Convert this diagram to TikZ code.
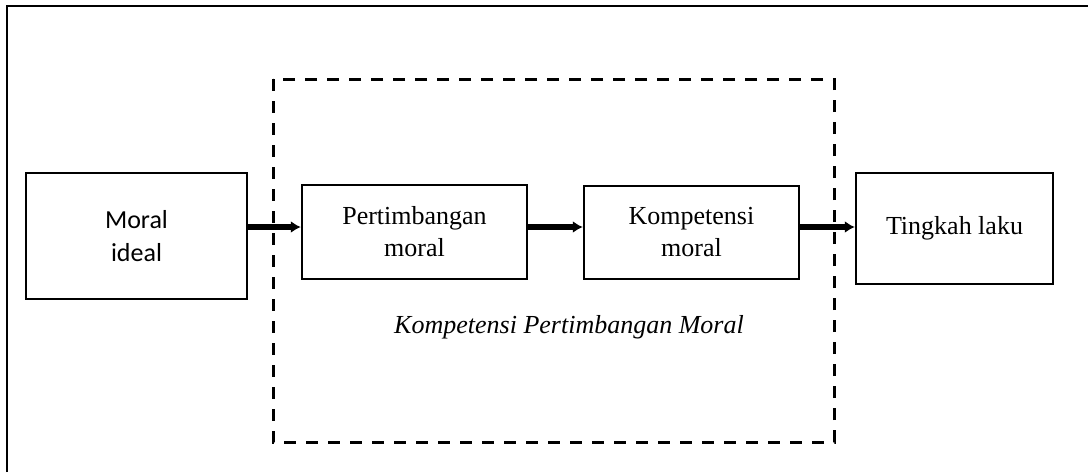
\documentclass[tikz,border=0pt]{standalone}
\usepackage{fontspec}
\setmainfont{Liberation Serif}
\newfontfamily\calibfont{Carlito}
\usepackage{tikz}
\usetikzlibrary{arrows.meta}

\begin{document}
\begin{tikzpicture}[x=0.5pt, y=-0.5pt,
    box/.style={draw, line width=1.2pt, inner sep=0pt, align=center,
      font=\fontsize{13}{16}\selectfont},
    flow/.style={line width=3pt, -{Latex[length=5pt,width=6pt]}}]
    \def\px{0.5pt}
    \useasboundingbox (0,0) rectangle (1088,472);
    % outer frame (cut at the page edge)
    \draw[line width=1.4pt] (7,472) -- (7,6) -- (1088,6);
    % dashed region
    \draw[line width=1.5pt, dash pattern=on 6pt off 5pt]
      (273,79) rectangle (834,442);
    \node[font=\fontsize{13}{16}\selectfont\itshape] (label) at (569,327)
      {Kompetensi Pertimbangan Moral};
    % boxes
    \node[box, minimum width=221*\px, minimum height=126*\px,
      font=\calibfont\fontsize{13}{16.5}\selectfont] (ideal) at (136.5,236) {Moral\\ideal};
    \node[box, minimum width=225*\px, minimum height=94*\px] (pert) at (414.5,232)
      {Pertimbangan\\moral};
    \node[box, minimum width=215*\px, minimum height=93*\px] (komp) at (691.5,232.5)
      {Kompetensi\\moral};
    \node[box, minimum width=197*\px, minimum height=111*\px] (laku) at (954.5,228.5)
      {Tingkah laku};
    % arrows
    \coordinate (axis) at (0,227);
    \draw[flow] (ideal.east |- axis) -- (pert.west |- axis);
    \draw[flow] (pert.east |- axis) -- (komp.west |- axis);
    \draw[flow] (komp.east |- axis) -- (laku.west |- axis);
\end{tikzpicture}
\end{document}
